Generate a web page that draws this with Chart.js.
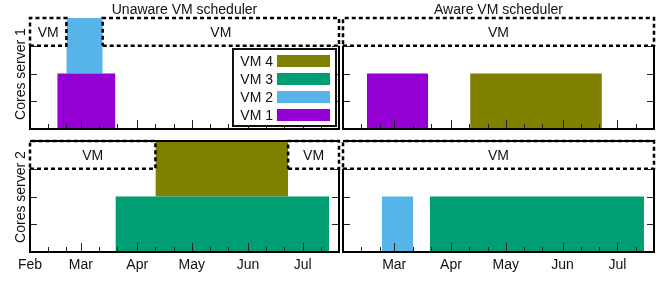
<!DOCTYPE html>
<html>
<head>
<meta charset="utf-8">
<script src="https://cdn.jsdelivr.net/npm/chart.js@4/dist/chart.umd.min.js"></script>
<style>
  html, body { margin:0; padding:0; background:#fff; }
  #wrap { position:relative; width:659px; height:287px; overflow:hidden; font-family:"Liberation Sans", Arial, sans-serif; }
  canvas { position:absolute; left:0; top:0; }
  .title { position:absolute; top:1px; font-size:14px; line-height:16px; color:#111; white-space:nowrap; transform:translateX(-50%); }
  .ylab { position:absolute; font-size:14px; line-height:16px; color:#111; white-space:nowrap; transform:translate(-50%,-50%) rotate(-90deg); }
</style>
</head>
<body>
<div id="wrap">
  <canvas id="c0" width="659" height="287"></canvas>
  <canvas id="c1" width="659" height="287"></canvas>
  <canvas id="c2" width="659" height="287"></canvas>
  <canvas id="c3" width="659" height="287"></canvas>
  <div class="title" style="left:184.5px">Unaware VM scheduler</div>
  <div class="title" style="left:498.5px">Aware VM scheduler</div>
  <div class="ylab" style="left:20px;top:73.5px">Cores server 1</div>
  <div class="ylab" style="left:20px;top:196.5px">Cores server 2</div>
</div>
<script>
// ---------------- DATA ----------------
// x axis: days counted from Feb 1
const monthLabels = ['Feb', 'Mar', 'Apr', 'May', 'Jun', 'Jul'];
const monthStartDay = [0, 28, 59, 89, 120, 150];
const minorTickDay = [10, 20, 38, 48, 69, 79, 99, 109, 130, 140, 160];
const dayRange = [0, 170];
// y axis: cores
const coreTicks = [1, 2, 3];
const coreRange = [0, 4];
const freeSlotCores = [3, 4];
const freeSlotLabel = 'VM';

const vmNames = ['VM 1', 'VM 2', 'VM 3', 'VM 4'];
const vmColors = ['#9400d3', '#56b4e9', '#009e73', '#808000'];

// allocations: [vm index, start day, end day, core from, core to]
const unawareServer1 = [[0, 15, 47, 0, 2], [1, 20, 40, 2, 4]];
const unawareServer2 = [[2, 47, 164.5, 0, 2], [3, 69, 142, 2, 4]];
const awareServer1   = [[0, 13, 46.5, 0, 2], [3, 69.5, 141.5, 0, 2]];
const awareServer2   = [[1, 21.3, 38.3, 0, 2], [2, 47.5, 164.5, 0, 2]];

// free VM slots: [start day, end day]
const unawareFree1 = [[0, 20], [40, 170]];
const unawareFree2 = [[0, 69], [142, 170]];
const awareFree1   = [[0, 170]];
const awareFree2   = [[0, 170]];

// ---------------- RENDER ----------------
const FONT = '14px "Liberation Sans", Arial, sans-serif';

const panelPlugin = {
  id: 'panel',
  afterDatasetsDraw(chart) {
    const cfg = chart.options.plugins.panel;
    const { ctx, chartArea: a, scales: { x, y } } = chart;
    ctx.save();
    ctx.strokeStyle = '#222';
    ctx.lineWidth = 1;
    ctx.beginPath();
    monthStartDay.forEach(d => {
      const px = Math.round(x.getPixelForValue(d)) + 0.5;
      ctx.moveTo(px, a.bottom); ctx.lineTo(px, a.bottom - 9);
    });
    minorTickDay.forEach(d => {
      const px = Math.round(x.getPixelForValue(d)) + 0.5;
      ctx.moveTo(px, a.bottom); ctx.lineTo(px, a.bottom - 5);
    });
    coreTicks.forEach(v => {
      const py = Math.round(y.getPixelForValue(v)) + 0.5;
      ctx.moveTo(a.left, py); ctx.lineTo(a.left + 7, py);
      ctx.moveTo(a.right, py); ctx.lineTo(a.right - 7, py);
    });
    ctx.stroke();
    ctx.strokeStyle = '#000';
    ctx.lineWidth = 2;
    const y3 = y.getPixelForValue(freeSlotCores[0]);
    ctx.beginPath();
    ctx.moveTo(a.left, y3); ctx.lineTo(a.left, a.bottom); ctx.lineTo(a.right, a.bottom); ctx.lineTo(a.right, y3);
    if (cfg.solidTop) { ctx.moveTo(a.left, a.top); ctx.lineTo(a.right, a.top); }
    ctx.stroke();
    ctx.restore();
  },
  afterDraw(chart) {
    const cfg = chart.options.plugins.panel;
    const { ctx, chartArea: a, scales: { x, y } } = chart;
    ctx.save();
    ctx.font = FONT;
    ctx.fillStyle = '#111';
    ctx.textAlign = 'center';
    ctx.textBaseline = 'middle';
    const ym = y.getPixelForValue((freeSlotCores[0] + freeSlotCores[1]) / 2);
    cfg.free.forEach(([s, e]) => {
      ctx.fillText(freeSlotLabel, (x.getPixelForValue(s) + x.getPixelForValue(e)) / 2, ym + 1);
    });
    if (cfg.monthLabels) {
      ctx.textBaseline = 'alphabetic';
      monthLabels.forEach((lab, i) => {
        if (i < cfg.firstLabel) return;
        ctx.fillText(lab, x.getPixelForValue(monthStartDay[i]), a.bottom + 17);
      });
    }
    if (cfg.legend) {
      const L = { left: 233, top: 49, right: 336, bottom: 126 };
      ctx.fillStyle = '#fff';
      ctx.fillRect(L.left, L.top, L.right - L.left, L.bottom - L.top);
      ctx.strokeStyle = '#111';
      ctx.lineWidth = 2;
      ctx.strokeRect(L.left, L.top, L.right - L.left, L.bottom - L.top);
      ctx.textAlign = 'right';
      ctx.textBaseline = 'middle';
      const order = vmNames.map((n, i) => i).reverse();
      order.forEach((vi, row) => {
        const cy = 61 + row * 18;
        ctx.fillStyle = '#111';
        ctx.fillText(vmNames[vi], 273, cy + 1);
        ctx.fillStyle = vmColors[vi];
        ctx.fillRect(277, cy - 6, 53, 12);
      });
    }
    ctx.restore();
  }
};

function makePanel(id, pad, allocs, free, extra) {
  const datasets = [];
  free.forEach(([s, e]) => {
    const lo = freeSlotCores[0], hi = freeSlotCores[1];
    datasets.push({
      data: [{ x: s, y: lo }, { x: e, y: lo }, { x: e, y: hi }, { x: s, y: hi }, { x: s, y: lo }],
      borderColor: '#000', borderWidth: 2.5, borderDash: [4, 3], borderCapStyle: 'butt',
      fill: false, pointRadius: 0, pointHoverRadius: 0, order: 0, clip: 8, tension: 0
    });
  });
  allocs.forEach(([vm, s, e, lo, hi]) => {
    datasets.push({
      data: [{ x: s, y: lo }, { x: s, y: hi }, { x: e, y: hi }, { x: e, y: lo }],
      borderColor: 'rgba(0,0,0,0)', borderWidth: 0, backgroundColor: vmColors[vm],
      fill: { value: lo }, pointRadius: 0, pointHoverRadius: 0, order: 1, tension: 0
    });
  });
  return new Chart(document.getElementById(id), {
    type: 'line',
    data: { datasets },
    options: {
      responsive: false, animation: false, events: [],
      devicePixelRatio: 1,
      layout: { padding: pad },
      scales: {
        x: { type: 'linear', min: dayRange[0], max: dayRange[1], display: false },
        y: { type: 'linear', min: coreRange[0], max: coreRange[1], display: false }
      },
      plugins: {
        legend: { display: false }, tooltip: { enabled: false },
        panel: Object.assign({ free, solidTop: false, monthLabels: false, firstLabel: 0, legend: false }, extra)
      }
    },
    plugins: [panelPlugin]
  });
}

makePanel('c0', { left: 30, top: 18, right: 320, bottom: 158 }, unawareServer1, unawareFree1, { legend: true });
makePanel('c1', { left: 343, top: 18, right: 5, bottom: 158 }, awareServer1, awareFree1, {});
makePanel('c2', { left: 30, top: 141, right: 320, bottom: 35 }, unawareServer2, unawareFree2, { solidTop: true, monthLabels: true });
makePanel('c3', { left: 343, top: 141, right: 5, bottom: 35 }, awareServer2, awareFree2, { solidTop: true, monthLabels: true, firstLabel: 1 });
</script>
</body>
</html>
